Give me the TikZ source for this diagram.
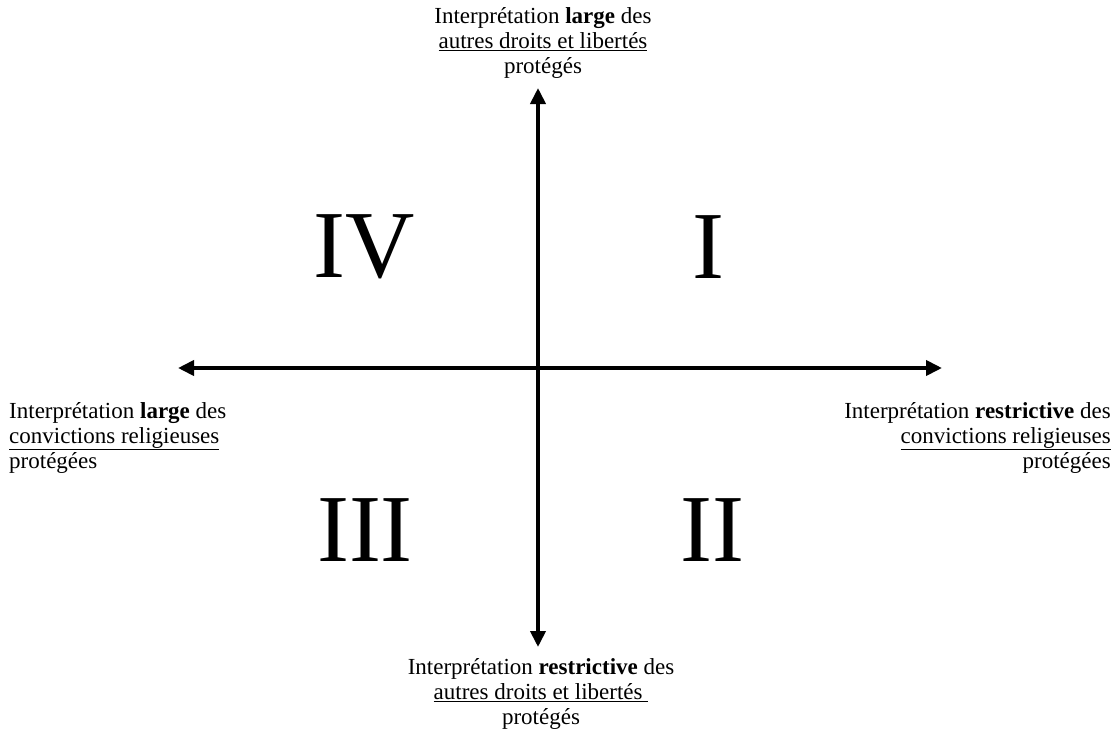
\documentclass[tikz,border=0pt]{standalone}
\usepackage{fontspec}
\setmainfont{Liberation Serif}
\usepackage{tikz}
\usetikzlibrary{arrows.meta}

\tikzset{
    axe/.style={line width=3.8pt, -{Triangle[length=16pt,width=15pt]}},
    pole/.style={inner sep=0pt, font=\fontsize{23}{25}\selectfont},
    quadrant/.style={inner sep=0pt, font=\fontsize{96}{96}\selectfont}
}

\begin{document}
\begin{tikzpicture}[x=1pt, y=-1pt]
    \useasboundingbox (0,0) rectangle (1120,739);

    % Axes
    \coordinate (origine) at (538,368);
    \coordinate (haut) at (538,88);
    \coordinate (bas) at (538,647);
    \coordinate (gauche) at (178,368);
    \coordinate (droite) at (942,368);
    \draw[axe] (origine) -- (haut);
    \draw[axe] (origine) -- (bas);
    \draw[axe] (origine) -- (gauche);
    \draw[axe] (origine) -- (droite);

    % Poles
    \node[pole, align=center, anchor=north] (autresLarge) at (543,7) {
        Interprétation \textbf{large} des\\
        \underline{autres droits et libertés}\\
        protégés
    };
    \node[pole, align=center, anchor=north] (autresRestrictive) at (541,658) {
        Interprétation \textbf{restrictive} des\\
        \underline{autres droits et libertés\ }\\
        protégés
    };
    \node[pole, align=left, anchor=north west] (convLarge) at (9,402) {
        Interprétation \textbf{large} des\\
        \underline{convictions religieuses}\\
        protégées
    };
    \node[pole, align=right, anchor=north east] (convRestrictive) at (1111,402) {
        Interprétation \textbf{restrictive} des\\
        \underline{convictions religieuses}\\
        protégées
    };

    % Quadrants
    \node[quadrant] (qI) at (708,247) {I};
    \node[quadrant] (qII) at (712,530) {II};
    \node[quadrant] (qIII) at (365,530) {III};
    \node[quadrant] (qIV) at (364,247) {IV};
\end{tikzpicture}
\end{document}
